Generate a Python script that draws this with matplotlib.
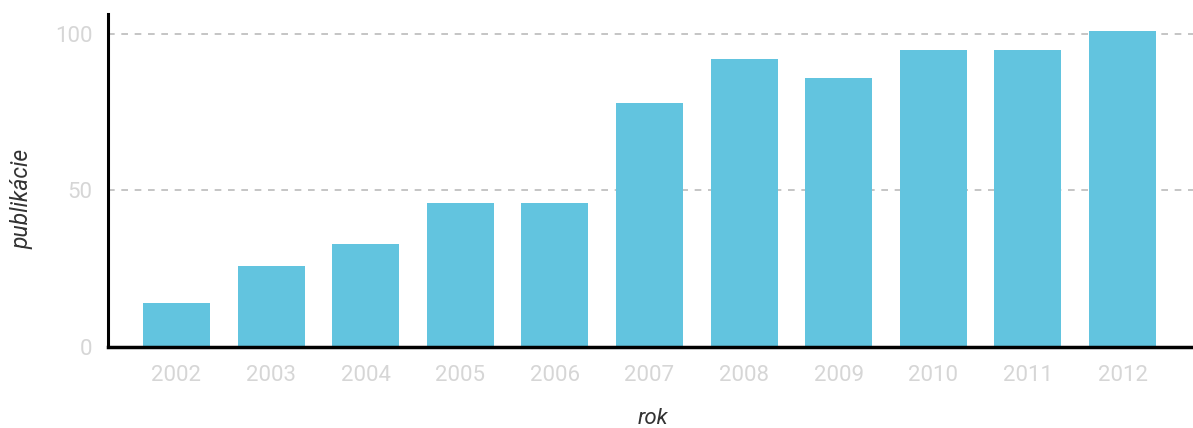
import matplotlib.pyplot as plt

# publications per year
years = ['2002', '2003', '2004', '2005', '2006', '2007', '2008', '2009', '2010', '2011', '2012']
counts = [14, 26, 33, 46, 46, 78, 92, 86, 95, 95, 101]
yticks = [0, 50, 100]

fig = plt.figure(figsize=(11.93, 4.28), dpi=100)
ax = fig.add_axes([0.0905, 0.189, 0.9095, 0.778])

x = range(len(years))
ax.bar(x, counts, width=0.708, color='#62c4df', zorder=2)

ax.set_xlim(-0.724, len(years) - 1 + 0.745)
ax.set_ylim(0, 106.3)
ax.set_xticks(list(x))
ax.set_xticklabels(years)
ax.set_yticks(yticks)

# dashed grid lines only above zero
for v in yticks[1:]:
    ax.axhline(v, color='#bbbbbb', linestyle=(0, (4, 4)), linewidth=1.2, zorder=1)

for side in ['top', 'right']:
    ax.spines[side].set_visible(False)
ax.spines['left'].set_linewidth(2.2)
ax.spines['bottom'].set_linewidth(2.5)
ax.spines['left'].set_zorder(3)
ax.spines['bottom'].set_zorder(3)

ax.tick_params(length=0, labelsize=16, labelcolor='#d6d6d6')
ax.tick_params(axis='x', pad=13)
ax.tick_params(axis='y', pad=11)
for lbl in ax.get_xticklabels() + ax.get_yticklabels():
    lbl.set_family('Roboto')
    lbl.set_fontweight('normal')

ax.set_xlabel('rok', fontsize=16, style='italic', family='Roboto', color='#333333')
ax.set_ylabel('publikácie', fontsize=16.5, style='italic', family='Roboto', color='#333333')
for lab in (ax.xaxis.label, ax.yaxis.label):
    lab.set_va('center')
    lab.set_ha('center')
ax.xaxis.set_label_coords(0.502, -0.213)
ax.yaxis.set_label_coords(-0.0793, 0.445)

fig.savefig('out.png', dpi=100)
